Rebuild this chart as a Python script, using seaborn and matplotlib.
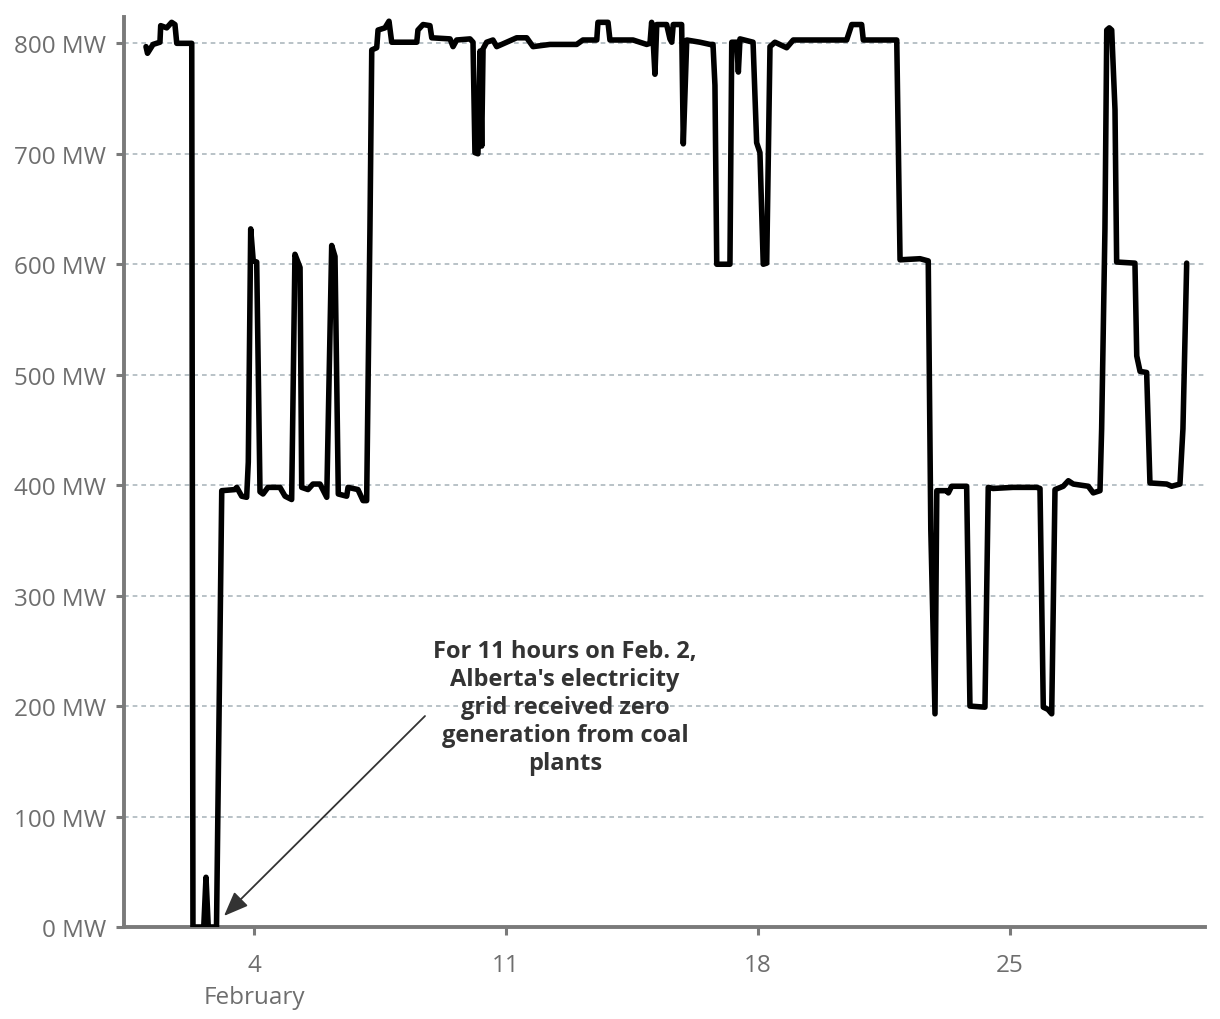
import matplotlib
matplotlib.use("Agg")
import matplotlib.pyplot as plt
import seaborn as sns
import pandas as pd

# Hours since 2024-02-01 00:00 and coal generation (MW)
hours = [0, 1, 4.7, 9.3, 9.8, 13.8, 17.1, 19.3, 20.5, 30.5,
         31.3, 36.5, 38.5, 40, 41.5, 43.5, 47, 50.5,
         59.3, 60.5, 63.8, 67.1, 68.2, 69.8, 71.5, 73.8, 76, 78, 81.3, 89.3, 92.7, 97.1,
         99.3, 102.7, 103.8, 108, 111.3, 116, 120.5, 123.8, 126, 128.2, 133.8, 134.7,
         141.3, 144.7, 147.1, 149.3, 150.5, 153.8, 154.7, 159.3, 162, 163.8, 180.5,
         181.3, 184.7, 189.3, 190.5, 202.7, 204.7, 207.1, 216, 218, 219.3, 221.3, 222.7,
         223.8, 224.7, 227.1, 231.3, 233.8, 240.5, 247.1, 253.8, 258, 269.3, 287.1,
         291.3, 300.5, 301.3, 308, 309.3, 324.7, 333.8, 336, 337.1, 338.2, 339.3, 340.5,
         347.1, 349.3, 350.5, 351.5, 357.1, 358.2, 360.5, 369.3, 376, 378, 379.3, 380.5,
         382.7, 389.3, 390.5, 393.8, 394.9, 396, 404.7, 407.1, 409.3, 411.5, 413.8, 416,
         419.3, 427.1, 431.5, 444.7, 467.1, 470.5, 477.1, 478.2, 500.5, 502.7, 516, 521.5,
         523.2, 526, 527.2, 533.8, 534.9, 537.1, 547.1, 549.3, 559.3, 561.5, 564.7, 578,
         593.8, 596, 598.2, 601.3, 603.8, 606, 611.5, 614.9, 618.2, 628.2, 631.5, 636,
         637.1, 639.3, 640.5, 642.2, 643.8, 646, 647.1, 659.3, 660.5, 662.7, 667.1, 669.3,
         680.5, 683.8, 689.3, 691.3, 693.8]
mw = [797, 791, 799, 801, 816, 814, 819, 817, 800, 800,
      0, 0, 0, 45, 0, 0, 0, 395,
      396, 398, 390, 389, 421, 632, 603, 602, 394, 392, 398, 398, 390, 387,
      609, 597, 398, 396, 401, 401, 389, 617, 607, 392, 390, 398,
      396, 386, 386, 632, 794, 796, 812, 814, 820, 801, 801,
      812, 817, 816, 805, 804, 797, 803, 804, 801, 701, 700, 793,
      707, 795, 801, 803, 797, 801, 805, 805, 797, 799, 799,
      803, 803, 819, 819, 803, 803, 799, 800, 819, 800, 772, 817,
      817, 804, 801, 817, 817, 709, 803, 801, 799, 799, 762, 600,
      600, 600, 801, 801, 774, 804, 801, 710, 701, 600, 601, 797,
      801, 796, 803, 803, 803, 817, 817, 803, 803, 604, 605, 603,
      360, 193, 395, 395, 393, 399, 399, 200, 199, 398, 397, 398,
      398, 397, 199, 197, 193, 396, 399, 404, 401, 399, 393, 395,
      451, 632, 812, 814, 812, 740, 602, 601, 517, 503, 502, 402,
      401, 399, 401, 451, 601]

yticks = [0, 100, 200, 300, 400, 500, 600, 700, 800]
ytick_labels = [f"{v} MW" for v in yticks]
xtick_days = ["2024-02-04", "2024-02-11", "2024-02-18", "2024-02-25"]
xtick_labels = ["4\nFebruary", "11", "18", "25"]
note = ("For 11 hours on Feb. 2,\nAlberta's electricity\ngrid received zero\n"
        "generation from coal\nplants")

base = pd.Timestamp("2024-02-01")
df = pd.DataFrame({"time": base + pd.to_timedelta(hours, unit="h"), "mw": mw})

sns.set_theme(style="white")
plt.rcParams["font.family"] = ["Open Sans", "DejaVu Sans"]

fig = plt.figure(figsize=(12.2, 10.2), dpi=100)
ax = fig.add_axes([0.1016, 0.0902, 0.8861, 0.8918])

grid_color = "#b3bdc3"
for v in yticks[1:]:
    ax.axhline(v, color=grid_color, lw=1.3, linestyle=(0, (2.6, 2.2)), zorder=1)

sns.lineplot(data=df, x="time", y="mw", ax=ax, color="black", linewidth=4.0,
             sort=False, zorder=3)
for ln in ax.get_lines()[-1:]:
    ln.set_linewidth(4.0)
    ln.set_solid_joinstyle("round")
    ln.set_solid_capstyle("round")

ax.set_ylim(0, 823.5)
ax.set_xlim(base + pd.Timedelta(hours=-14.7), base + pd.Timedelta(hours=706))

ax.set_yticks(yticks)
ax.set_yticklabels(ytick_labels)
ax.set_xticks([pd.Timestamp(d) for d in xtick_days])
ax.set_xticklabels(xtick_labels, linespacing=1.4)
ax.set_xlabel("")
ax.set_ylabel("")

spine_color = "#7a7a7a"
for s in ["top", "right"]:
    ax.spines[s].set_visible(False)
for s in ["left", "bottom"]:
    ax.spines[s].set_color(spine_color)
    ax.spines[s].set_linewidth(2.8)
    ax.spines[s].set_zorder(2)

ax.tick_params(axis="y", length=6, width=2.2, color=spine_color, pad=7,
               labelsize=17.5, labelcolor="#6e6e6e", left=True)
ax.tick_params(axis="x", length=6, width=2.2, color=spine_color, pad=13,
               labelsize=17.5, labelcolor="#6e6e6e", bottom=True)

ax.text(base + pd.Timedelta(hours=279.3), 199, note, ha="center", va="center",
        fontsize=17, fontweight="bold", color="#333333", linespacing=1.22,
        zorder=4)

ax.annotate("", xy=(base + pd.Timedelta(hours=52), 10),
            xytext=(base + pd.Timedelta(hours=186), 191),
            arrowprops=dict(arrowstyle="-|>,head_length=0.75,head_width=0.3",
                            color="#333333", lw=1.3, mutation_scale=20,
                            shrinkA=0, shrinkB=0),
            zorder=4)

fig.savefig("out.png", dpi=100, facecolor="white")
